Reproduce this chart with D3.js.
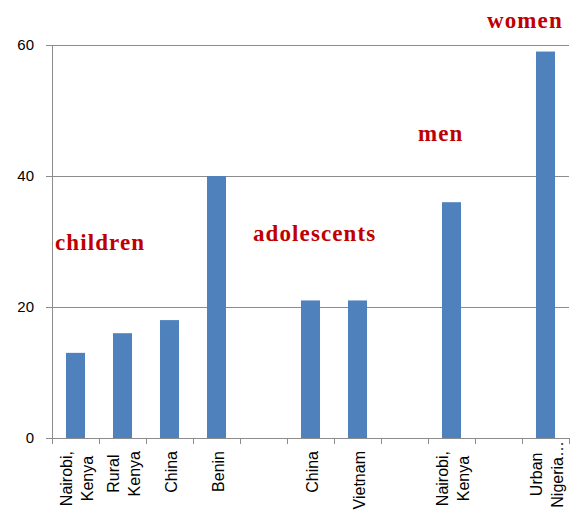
<!DOCTYPE html>
<html>
<head>
<meta charset="utf-8">
<script src="https://cdn.jsdelivr.net/npm/d3@7"></script>
<style>
  body { margin: 0; background: #fff; }
  svg { display: block; }
</style>
</head>
<body>
<div id="chart"></div>
<script>
// category labels (lines split by "|"), one slot per column, empty slots are gaps
const categories = ["Nairobi,|Kenya", "Rural|Kenya", "China", "Benin", "", "China", "Vietnam", "", "Nairobi,|Kenya", "", "Urban|Nigeria\u2026"];
const values = [13, 16, 18, 40, null, 21, 21, null, 36, null, 59];
const yTicks = [0, 20, 40, 60];
const groupNames = ["children", "adolescents", "men", "women"];
// where each group name sits: starting column and height in value units
const groupCols = [0, 4, 7, 9];
const groupVals = [28.7, 30.1, 45.3, 62.6];

const width = 570, height = 510;
const margin = { top: 45, right: 1, bottom: 72, left: 52 };

const svg = d3.select("#chart").append("svg")
  .attr("width", width)
  .attr("height", height);

const idx = d3.range(categories.length);
const x = d3.scaleBand()
  .domain(idx)
  .range([margin.left, width - margin.right]);
const xEdge = d3.scaleLinear()
  .domain([0, categories.length])
  .range([margin.left, width - margin.right]);
const y = d3.scaleLinear()
  .domain([0, 60])
  .range([height - margin.bottom, margin.top]);

const gridColor = "#8c8c8c";

// gridlines
svg.append("g")
  .selectAll("line")
  .data(yTicks)
  .join("line")
  .attr("x1", margin.left)
  .attr("x2", width - margin.right)
  .attr("y1", d => y(d))
  .attr("y2", d => y(d))
  .attr("stroke", gridColor)
  .attr("shape-rendering", "crispEdges");

// y axis
const yAxis = svg.append("g")
  .attr("transform", `translate(${margin.left},0)`)
  .call(d3.axisLeft(y).tickValues(yTicks).tickSize(6).tickSizeOuter(0).tickPadding(12));
yAxis.selectAll("path, line").attr("stroke", gridColor).attr("shape-rendering", "crispEdges");
yAxis.selectAll("text")
  .attr("font-family", "Liberation Sans, Arial, sans-serif")
  .attr("font-size", 15)
  .attr("fill", "#000");

// x ticks at column edges
const xAxis = svg.append("g")
  .attr("transform", `translate(0,${y(0)})`)
  .call(d3.axisBottom(xEdge).tickValues(d3.range(categories.length + 1)).tickSize(6).tickFormat(""));
xAxis.select(".domain").remove();
xAxis.selectAll("line").attr("stroke", gridColor).attr("shape-rendering", "crispEdges");

// bars
const barW = x.bandwidth() * 0.405;
svg.append("g")
  .selectAll("rect")
  .data(idx.filter(i => values[i] != null))
  .join("rect")
  .attr("x", i => x(i) + (x.bandwidth() - barW) / 2)
  .attr("y", i => y(values[i]))
  .attr("width", barW)
  .attr("height", i => y(0) - y(values[i]))
  .attr("fill", "#4f81bd");

// rotated category labels
const lineStep = 21.5;
const labels = svg.append("g")
  .attr("font-family", "Liberation Sans, Arial, sans-serif")
  .attr("font-size", 16)
  .attr("fill", "#000");

idx.forEach(i => {
  if (!categories[i]) return;
  const lines = categories[i].split("|");
  const n = lines.length;
  const g = labels.append("g");
  const texts = lines.map((t, k) =>
    g.append("text")
      .attr("y", 7 + (k - (n - 1) / 2) * lineStep)
      .attr("text-anchor", "middle")
      .text(t)
  );
  const w = d3.max(texts, t => t.node().getComputedTextLength());
  texts.forEach(t => t.attr("x", -w / 2));
  const top = w > 62 ? y(0) + 3 : y(0) + 13;
  g.attr("transform", `translate(${x(i) + x.bandwidth() / 2},${top}) rotate(-90)`);
});

// group names
const groupDx = [3, 13, 37, 12];
svg.append("g")
  .attr("font-family", "Liberation Serif, Times New Roman, serif")
  .attr("font-weight", "bold")
  .attr("font-size", 23)
  .attr("letter-spacing", 1.1)
  .attr("fill", "#c00000")
  .selectAll("text")
  .data(groupNames)
  .join("text")
  .attr("x", (d, k) => xEdge(groupCols[k]) + groupDx[k])
  .attr("y", (d, k) => y(groupVals[k]))
  .text(d => d);
</script>
</body>
</html>
